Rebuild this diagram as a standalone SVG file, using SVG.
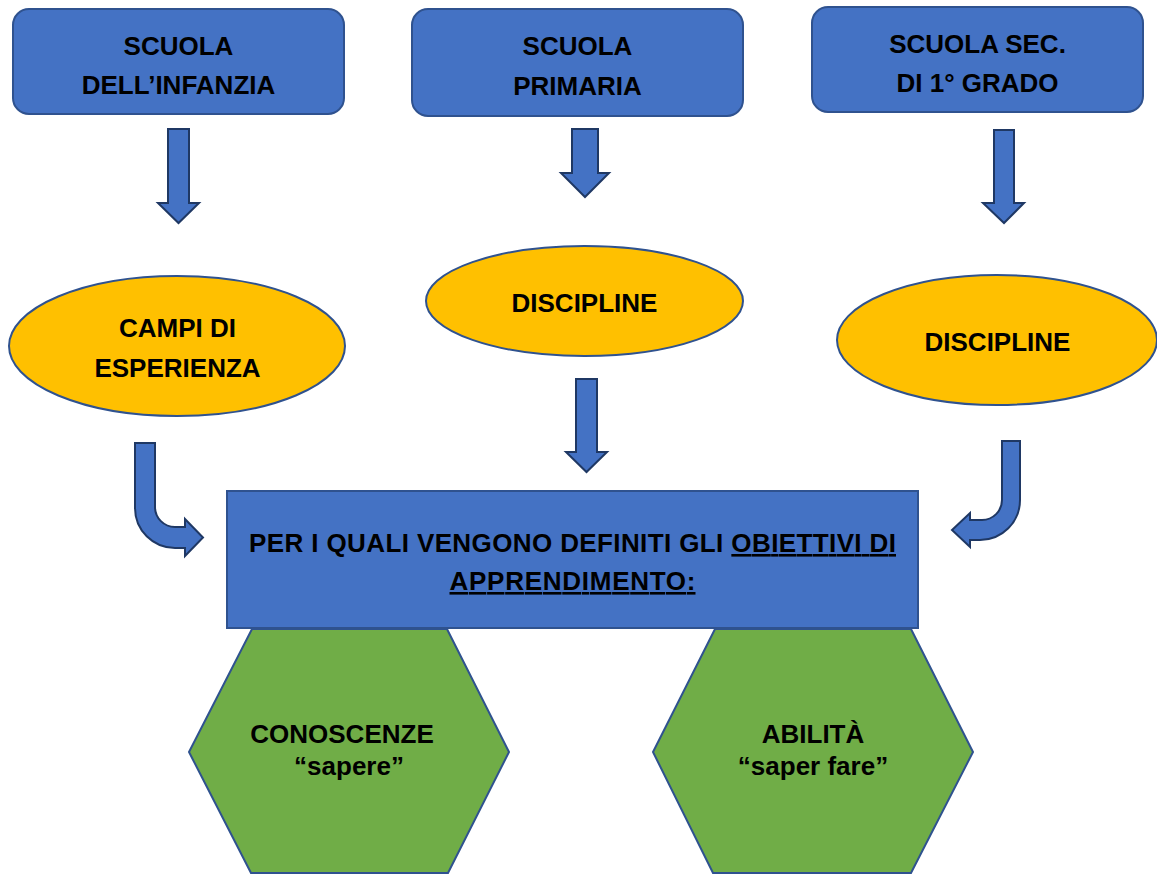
<svg xmlns="http://www.w3.org/2000/svg" width="1157" height="875" viewBox="0 0 1157 875">
<style>
.blue{fill:#4472C4;stroke:#2F528F;stroke-width:2}
.orange{fill:#FFC000;stroke:#2F528F;stroke-width:2}
.green{fill:#70AD47;stroke:#2F528F;stroke-width:2}
.arrow{fill:#4472C4;stroke:#1F3864;stroke-width:2;stroke-linejoin:miter}
.t{font-family:"Liberation Sans",Arial,sans-serif;font-weight:bold;font-size:26px;fill:#000;text-anchor:middle}
</style>
<rect width="1157" height="875" fill="#fff"/>
<g id="connectors">
<path class="arrow" d="M168,129 H189 V203 H199 L178.5,223 L158,203 H168 Z"/>
<path class="arrow" d="M572,129 H598 V173 H609 L585,197 L561,173 H572 Z"/>
<path class="arrow" d="M994,130 H1014 V203 H1024 L1004,223 L983,203 H994 Z"/>
<path class="arrow" d="M576,379 H597 V452 H607 L586.5,472 L566,452 H576 Z"/>
<path class="arrow" d="M135,443 H155 V507 A20,20 0 0 0 175,527 H185 V519 L203,537.5 L185,556 V548 H175 A40,40 0 0 1 135,508 Z"/>
<path class="arrow" d="M1002,441 H1020 V500 A40,40 0 0 1 980,540 H970 V547 L952,530 L970,513 V520 H982 A20,20 0 0 0 1002,500 Z"/>
</g>
<g id="infanzia">
<rect class="blue" x="13" y="9" width="331" height="105" rx="16"/>
<text class="t" x="178.5" y="55">SCUOLA</text>
<text class="t" x="178.5" y="94">DELL’INFANZIA</text>
</g>
<g id="primaria">
<rect class="blue" x="412" y="9" width="331" height="107" rx="16"/>
<text class="t" x="577.5" y="55">SCUOLA</text>
<text class="t" x="577.5" y="95">PRIMARIA</text>
</g>
<g id="secondaria">
<rect class="blue" x="812" y="7" width="331" height="105" rx="16"/>
<text class="t" x="977.5" y="53">SCUOLA SEC.</text>
<text class="t" x="977.5" y="92">DI 1° GRADO</text>
</g>
<g id="campi">
<ellipse class="orange" cx="177" cy="346" rx="168" ry="70"/>
<text class="t" x="177.5" y="337">CAMPI DI</text>
<text class="t" x="177.5" y="377">ESPERIENZA</text>
</g>
<g id="discipline1">
<ellipse class="orange" cx="584.5" cy="301" rx="158.5" ry="55"/>
<text class="t" x="584.5" y="312">DISCIPLINE</text>
</g>
<g id="discipline2">
<ellipse class="orange" cx="997" cy="340" rx="160" ry="65"/>
<text class="t" x="997.5" y="351">DISCIPLINE</text>
</g>
<g id="obiettivi">
<rect class="blue" x="227" y="491" width="691" height="137"/>
<text class="t" x="572.5" y="552" textLength="647" lengthAdjust="spacing">PER I QUALI VENGONO DEFINITI GLI <tspan text-decoration="underline">OBIETTIVI DI</tspan></text>
<text class="t" x="572.5" y="590" text-decoration="underline" textLength="246" lengthAdjust="spacing">APPRENDIMENTO:</text>
</g>
<g id="conoscenze">
<polygon class="green" points="252,629 447,629 509,752 448,873 251,873 189,752"/>
<text class="t" x="342" y="743">CONOSCENZE</text>
<text class="t" x="349" y="775">“sapere”</text>
</g>
<g id="abilita">
<polygon class="green" points="715,629 911,629 973,752 911,873 713,873 653,752"/>
<text class="t" x="813" y="743">ABILITÀ</text>
<text class="t" x="813" y="775">“saper fare”</text>
</g>
</svg>
